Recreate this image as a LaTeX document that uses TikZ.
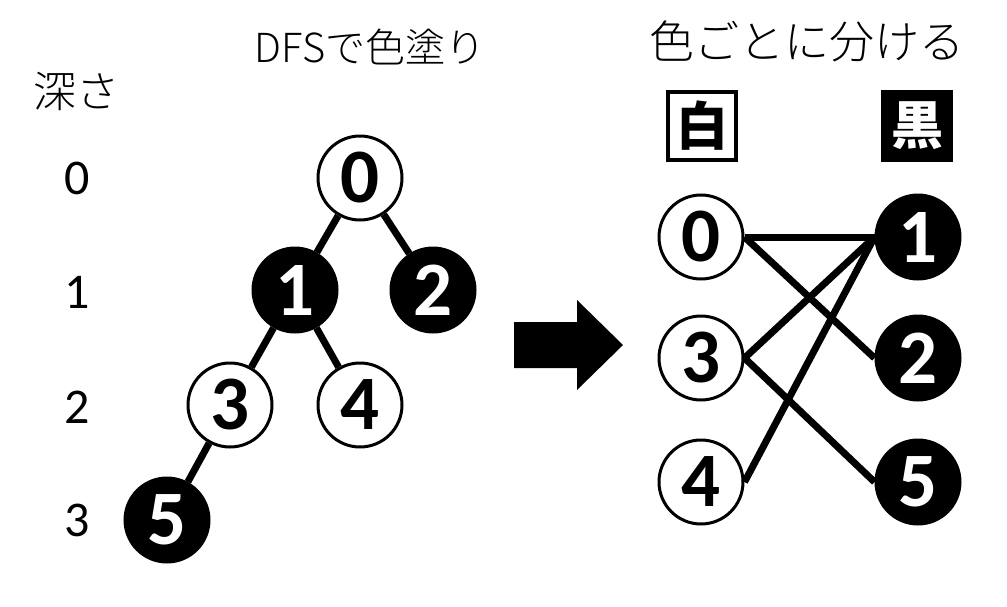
\documentclass[tikz,border=0pt]{standalone}
\usepackage{fontspec}
\setmainfont{Carlito}
\newfontfamily\jpfont{Noto Sans CJK JP}
\newfontfamily\jplight{Noto Sans CJK JP Light}

\begin{document}
\begin{tikzpicture}[x=1pt, y=-1pt,
  wnode/.style={circle, draw, line width=3pt, minimum size=84pt, inner sep=0pt,
    font=\fontsize{77}{77}\selectfont\bfseries},
  bnode/.style={wnode, fill=black, text=white},
  link/.style={line width=7pt},
  title/.style={font=\jplight\fontsize{40}{40}\selectfont},
  depth/.style={font=\fontsize{50}{50}\selectfont},
  colbox/.style={draw, line width=4pt, minimum size=68pt, inner sep=0pt,
    font=\jpfont\bfseries\fontsize{52}{52}\selectfont}]
  \useasboundingbox (0,0) rectangle (1007,606);

  % titles
  \node[title] (ttree) at (370,47) {DFSで色塗り};
  \node[title, font=\jplight\fontsize{45}{45}\selectfont] (tsplit) at (807,41) {色ごとに分ける};
  \node[title, font=\jplight\fontsize{43}{43}\selectfont] (tdepth) at (76,91) {深さ};

  % depth column
  \node[depth] (d0) at (77,178) {0};
  \node[depth] (d1) at (77,292) {1};
  \node[depth] (d2) at (77,407) {2};
  \node[depth] (d3) at (77,520) {3};

  % DFS tree
  \node[wnode] (t0) at (360,178) {0};
  \node[bnode] (t1) at (295,290) {1};
  \node[bnode] (t2) at (433,290) {2};
  \node[wnode] (t3) at (230,405) {3};
  \node[wnode] (t4) at (360,405) {4};
  \node[bnode] (t5) at (167,520) {5};
  \draw[link] (t0) -- (t1);
  \draw[link] (t0) -- (t2);
  \draw[link] (t1) -- (t3);
  \draw[link] (t1) -- (t4);
  \draw[link] (t3) -- (t5);

  % big arrow
  \fill (514,322) -- (577,322) -- (577,300) -- (623,345) -- (577,390)
    -- (577,368) -- (514,368) -- cycle;

  % split by colour
  \node[colbox] (white) at (702,126) {白};
  \node[colbox, fill=black, text=white] (black) at (917,126) {黒};
  \node[wnode] (w0) at (701,237) {0};
  \node[wnode] (w3) at (701,358) {3};
  \node[wnode] (w4) at (701,482) {4};
  \node[bnode] (b1) at (918,237) {1};
  \node[bnode] (b2) at (918,358) {2};
  \node[bnode] (b5) at (918,482) {5};
  \draw[link] (w0.east) -- (b1.west);
  \draw[link] (w0.east) -- (b2.west);
  \draw[link] (w3.east) -- (b1.west);
  \draw[link] (w4.east) -- (b1.west);
  \draw[link] (w3.east) -- (b5.west);
\end{tikzpicture}
\end{document}
